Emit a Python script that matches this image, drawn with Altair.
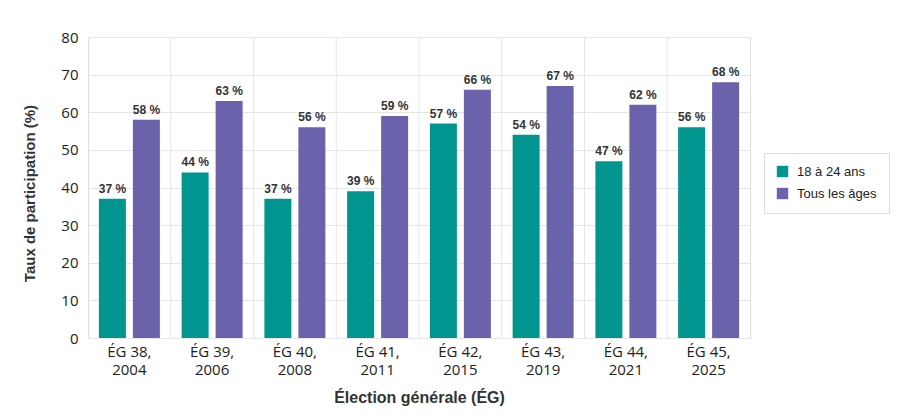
import altair as alt
import pandas as pd

categories = ["ÉG 38, 2004", "ÉG 39, 2006", "ÉG 40, 2008", "ÉG 41, 2011",
              "ÉG 42, 2015", "ÉG 43, 2019", "ÉG 44, 2021", "ÉG 45, 2025"]
series = ["18 à 24 ans", "Tous les âges"]
youth = [37, 44, 37, 39, 57, 54, 47, 56]
all_ages = [58, 63, 56, 59, 66, 67, 62, 68]
colors = ["#00968f", "#6a62aa"]
y_ticks = [0, 10, 20, 30, 40, 50, 60, 70, 80]

rows = []
for c, a, b in zip(categories, youth, all_ages):
    rows.append({"cat": c, "serie": series[0], "val": a, "lab": f"{a} %"})
    rows.append({"cat": c, "serie": series[1], "val": b, "lab": f"{b} %"})
df = pd.DataFrame(rows)
sep = pd.DataFrame({"cat": categories[1:]})

FONT = "Liberation Sans"
TICKFONT = "Open Sans"

x_axis = alt.Axis(
    title="Élection générale (ÉG)",
    labelExpr="[split(datum.label, ', ')[0] + ',', split(datum.label, ', ')[1]]",
    labelAngle=0, labelAlign="center", bandPosition=0.5,
    labelFont=TICKFONT, labelFontSize=15, labelColor="#222222",
    labelLineHeight=18, labelPadding=6, labelBaseline="top",
    domain=False, ticks=False, grid=False,
    titleFont=FONT, titleFontSize=16, titleFontWeight="bold", titleColor="#333333",
    titlePadding=12,
)
x_enc = alt.X("cat:N", sort=categories,
              scale=alt.Scale(paddingInner=0, paddingOuter=0), axis=x_axis)
xoff = alt.XOffset("serie:N", sort=series,
                   scale=alt.Scale(paddingInner=0.206, paddingOuter=0.32))
y_enc = alt.Y(
    "val:Q",
    scale=alt.Scale(domain=[0, 80], nice=False),
    axis=alt.Axis(
        title="Taux de participation (%)", values=y_ticks, labelOverlap=False,
        labelFont=TICKFONT, labelFontSize=15, labelColor="#222222", labelPadding=10,
        domain=False, ticks=False, grid=True, gridColor="#e6e6e6",
        titleFont=FONT, titleFontSize=15, titleFontWeight="bold", titleColor="#333333",
        titlePadding=23, titleY=156,
    ),
)

seps = alt.Chart(sep).mark_rule(color="#e6e6e6", strokeWidth=1).encode(
    x=alt.X("cat:N", sort=categories, bandPosition=0,
            scale=alt.Scale(paddingInner=0, paddingOuter=0), axis=x_axis)
)

bars = alt.Chart(df).mark_bar().encode(
    x=x_enc, xOffset=xoff, y=y_enc,
    color=alt.Color(
        "serie:N", sort=series,
        scale=alt.Scale(domain=series, range=colors),
        legend=alt.Legend(
            title=None, orient="none", legendX=676, legendY=116,
            symbolType="square", symbolSize=130, symbolStrokeWidth=0,
            labelFont=FONT, labelFontSize=13, labelColor="#222222",
            strokeColor="#dddddd", padding=12, rowPadding=8, labelOffset=8,
            fillColor="white",
        ),
    ),
)

texts = alt.Chart(df).mark_text(
    font=FONT, fontSize=12, fontWeight="bold", color="#333333",
    baseline="alphabetic", dy=-6,
).encode(
    x=x_enc, xOffset=xoff, y=y_enc, text="lab:N"
)

chart = alt.layer(seps, bars, texts).properties(
    width=662, height=301,
    autosize=alt.AutoSizeParams(type="none"),
    padding={"left": 88, "top": 37, "right": 150, "bottom": 82},
).configure_view(stroke=None).configure(background="white")

chart.save("out.html", embed_options={"renderer": "svg", "actions": False})
